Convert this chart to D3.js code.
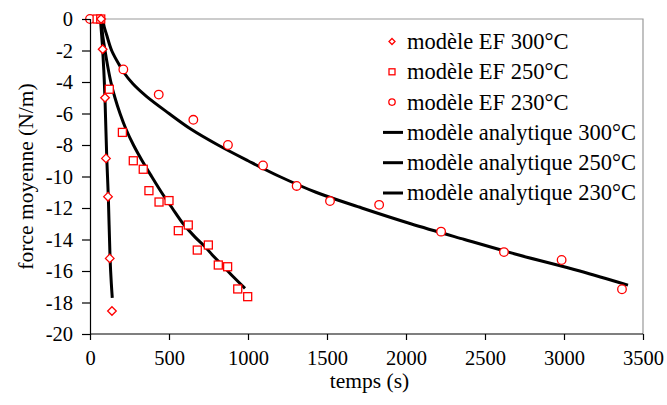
<!DOCTYPE html>
<html><head><meta charset="utf-8">
<script src="https://cdn.jsdelivr.net/npm/d3@7"></script>
<style>body{margin:0;background:#fff}svg{display:block}text{font-family:"Liberation Serif","Times New Roman",serif;fill:#000}</style>
</head><body><svg id="c" width="667" height="405"></svg>
<script>
// ---- data ----
const xTicks = [0, 500, 1000, 1500, 2000, 2500, 3000, 3500];
const yTicks = [0, -2, -4, -6, -8, -10, -12, -14, -16, -18, -20];

const ef300T = [70, 80, 95, 101, 114, 125, 139];
const ef300F = [0, -1.92, -5.0, -8.85, -11.28, -15.2, -18.54];

const ef250T = [45, 68, 122, 205, 274, 337, 373, 437, 500, 559, 622, 679, 749, 812, 871, 935, 998];
const ef250F = [0, 0, -4.46, -7.2, -9.0, -9.54, -10.9, -11.62, -11.53, -13.44, -13.08, -14.67, -14.35, -15.62, -15.73, -17.14, -17.63];

const ef230T = [0, 211, 435, 654, 873, 1095, 1308, 1519, 1830, 2222, 2620, 2985, 3367];
const ef230F = [0, -3.2, -4.8, -6.4, -8.0, -9.3, -10.6, -11.56, -11.8, -13.5, -14.8, -15.3, -17.16];

const an300T = [66, 72, 80, 88, 95, 106, 116, 127, 135, 141];
const an300F = [0, -0.8, -1.9, -3.4, -5.1, -8.8, -11.3, -15.2, -16.8, -17.7];

const an250T = [72, 80, 95, 112, 132, 158, 190, 228, 275, 330, 390, 452, 520, 590, 665, 728, 785, 844, 910, 981];
const an250F = [0, -1.0, -2.0, -3.0, -4.0, -5.0, -6.0, -7.0, -8.0, -9.0, -10.0, -11.0, -12.0, -13.0, -13.85, -14.46, -15.1, -15.7, -16.4, -17.1];

const an230T = [80, 90, 105, 137, 190, 211, 270, 359, 500, 640, 810, 1000, 1200, 1430, 1720, 2030, 2370, 2720, 3100, 3405];
const an230F = [0, -0.5, -1.0, -2.0, -3.0, -3.35, -4.1, -4.93, -6.0, -7.0, -8.0, -9.0, -10.0, -11.0, -12.0, -13.0, -14.0, -15.0, -16.0, -16.9];

const legendLabels = ["modèle EF 300°C", "modèle EF 250°C", "modèle EF 230°C",
  "modèle analytique 300°C", "modèle analytique 250°C", "modèle analytique 230°C"];
const xTitle = "temps (s)";
const yTitle = "force moyenne (N/m)";

// ---- chart ----
const svg = d3.select("#c");
const L = 90, R = 643, T = 19, B = 334;
const x = d3.scaleLinear().domain([0, 3500]).range([L, R]);
const y = d3.scaleLinear().domain([0, -20]).range([T, B]);
const RED = "#ff0000";

// plot border (top/right)
svg.append("path").attr("d", `M${L},${T}H${R}V${B}`).attr("fill", "none").attr("stroke", "#999").attr("stroke-width", 1.2);

const zip = (a, b) => a.map((v, i) => [v, b[i]]);
const line = d3.line().x(d => x(d[0])).y(d => y(d[1])).curve(d3.curveCatmullRom.alpha(0.5));

[[an300T, an300F], [an250T, an250F], [an230T, an230F]].forEach(([t, f]) => {
  svg.append("path").attr("d", line(zip(t, f))).attr("fill", "none")
    .attr("stroke", "#000").attr("stroke-width", 3).attr("stroke-linecap", "butt");
});

const diamond = (s) => `M0,${-s}L${s},0L0,${s}L${-s},0Z`;
function marker(g, type, size) {
  if (type === "d") g.append("path").attr("d", diamond(size));
  else if (type === "s") g.append("rect").attr("x", -size).attr("y", -size).attr("width", 2 * size).attr("height", 2 * size);
  else g.append("circle").attr("r", size);
  g.attr("fill", "#fff").attr("stroke", RED).attr("stroke-width", 1.3);
}
const mk = svg.append("g");
[[ef230T, ef230F, "c", 4.3], [ef250T, ef250F, "s", 4], [ef300T, ef300F, "d", 4.3]].forEach(([t, f, ty, sz]) => {
  zip(t, f).forEach(p => {
    const g = mk.append("g").attr("transform", `translate(${x(p[0])},${y(p[1])})`);
    marker(g, ty, sz);
  });
});

// axes
const ya = svg.append("g").attr("transform", `translate(${L},0)`)
  .call(d3.axisLeft(y).tickValues(yTicks).tickSize(8).tickPadding(9).tickFormat(d => String(d)));
const xa = svg.append("g").attr("transform", `translate(0,${B})`)
  .call(d3.axisBottom(x).tickValues(xTicks).tickSize(6).tickPadding(6).tickFormat(d => String(d)));
[ya, xa].forEach(a => {
  a.select(".domain").attr("stroke", "#000").attr("stroke-width", 1.2);
  a.selectAll(".tick line").attr("stroke", "#000").attr("stroke-width", 1.2);
  a.selectAll("text").attr("font-size", 20.5).attr("fill", "#000");
});
xa.select(".domain").attr("d", `M${L},0H${R}`);
xa.selectAll(".tick text").attr("dy", "0.95em");

svg.append("text").attr("x", (L + R) / 2 + 3).attr("y", 388).attr("text-anchor", "middle")
  .attr("font-size", 21.5).text(xTitle);
svg.append("text").attr("transform", `translate(33,${(T + B) / 2}) rotate(-90)`).attr("text-anchor", "middle")
  .attr("font-size", 21.5).text(yTitle);

// legend
const types = ["d", "s", "c"];
legendLabels.forEach((lab, i) => {
  const cy = 41.5 + i * 30.3;
  if (i < 3) {
    const g = svg.append("g").attr("transform", `translate(392,${cy})`);
    marker(g, types[i], i === 2 ? 3.2 : 3);
  } else {
    svg.append("line").attr("x1", 383).attr("x2", 403).attr("y1", cy).attr("y2", cy)
      .attr("stroke", "#000").attr("stroke-width", 3);
  }
  svg.append("text").attr("x", 407).attr("y", cy).attr("dy", "0.33em").attr("font-size", 22.5).text(lab);
});
</script></body></html>
